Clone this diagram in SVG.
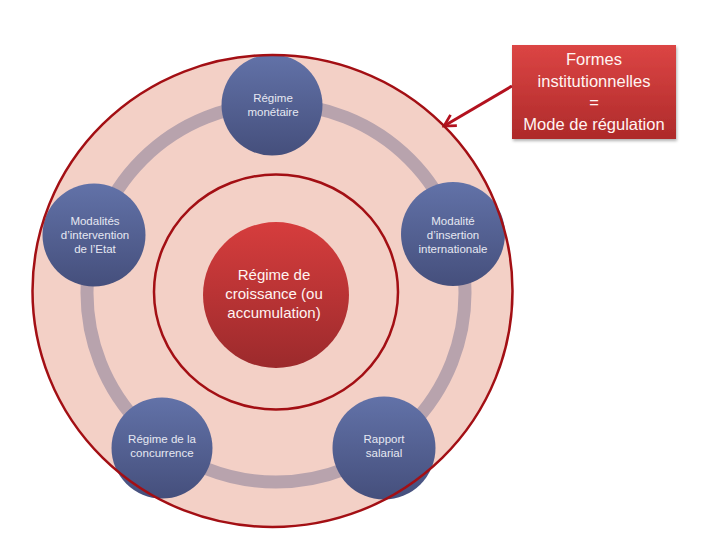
<svg xmlns="http://www.w3.org/2000/svg" width="720" height="540" viewBox="0 0 720 540">
<defs>
<linearGradient id="blue" x1="0" y1="0" x2="0" y2="1">
<stop offset="0" stop-color="#6272A8"/>
<stop offset="1" stop-color="#454F7C"/>
</linearGradient>
<linearGradient id="red" x1="0" y1="0" x2="0" y2="1">
<stop offset="0" stop-color="#D63D3D"/>
<stop offset="1" stop-color="#9C2A2C"/>
</linearGradient>
<linearGradient id="boxred" x1="0" y1="0" x2="0" y2="1">
<stop offset="0" stop-color="#DC4544"/>
<stop offset="1" stop-color="#AE2A2A"/>
</linearGradient>
<marker id="arr" viewBox="0 0 12 12" refX="10" refY="6" markerWidth="5" markerHeight="5" orient="auto" markerUnits="strokeWidth">
<path d="M1,1 L10,6 L1,11" fill="none" stroke="#B3121F" stroke-width="2.2"/>
</marker>
<filter id="sh" x="-10%" y="-10%" width="130%" height="130%">
<feDropShadow dx="1" dy="2" stdDeviation="1.5" flood-color="#000" flood-opacity="0.3"/>
</filter>
</defs>
<style>
.node{fill:url(#blue)}
.nt{font-family:"Liberation Sans",Arial,sans-serif;font-size:11.5px;fill:#E6E8F2;text-anchor:middle}
.ct{font-family:"Liberation Sans",Arial,sans-serif;font-size:15px;fill:#FFF4F2;text-anchor:middle}
.bt{font-family:"Liberation Sans",Arial,sans-serif;font-size:16.5px;fill:#FFF4F2;text-anchor:middle}
.rim{fill:none;stroke:#A30F14;stroke-width:2.5}
</style>
<rect width="720" height="540" fill="#FFFFFF"/>
<g id="outer">
<ellipse cx="272.5" cy="291" rx="240" ry="236" fill="#F3D0C6"/>
</g>
<g id="connectors">
<circle cx="276" cy="293" r="189" fill="none" stroke="#B8A3AD" stroke-width="13"/>
<line x1="512" y1="86" x2="444" y2="126" stroke="#B3121F" stroke-width="3" marker-end="url(#arr)"/>
</g>
<g id="inner">
<ellipse cx="276" cy="292" rx="122" ry="117.5" fill="#FFFFFF" class="rim"/>
</g>
<g id="center">
<circle cx="276" cy="295" r="73" fill="url(#red)"/>
<text class="ct" x="274" y="280">Régime de</text>
<text class="ct" x="274" y="299">croissance (ou</text>
<text class="ct" x="274" y="318">accumulation)</text>
</g>
<g id="n-monetaire">
<circle class="node" cx="272" cy="105" r="50.5"/>
<text class="nt" x="273" y="102">Régime</text>
<text class="nt" x="273" y="116">monétaire</text>
</g>
<g id="n-etat">
<circle class="node" cx="94" cy="235" r="51.5"/>
<text class="nt" x="95" y="225">Modalités</text>
<text class="nt" x="95" y="239">d’intervention</text>
<text class="nt" x="95" y="253">de l’Etat</text>
</g>
<g id="n-international">
<circle class="node" cx="453" cy="234" r="52"/>
<text class="nt" x="453" y="225">Modalité</text>
<text class="nt" x="453" y="239">d’insertion</text>
<text class="nt" x="453" y="253">internationale</text>
</g>
<g id="n-concurrence">
<circle class="node" cx="162" cy="448" r="50.5"/>
<text class="nt" x="162" y="443">Régime de la</text>
<text class="nt" x="162" y="457">concurrence</text>
</g>
<g id="n-salarial">
<circle class="node" cx="384" cy="448" r="51.5"/>
<text class="nt" x="384" y="443">Rapport</text>
<text class="nt" x="384" y="457">salarial</text>
</g>
<g id="outer-rim">
<ellipse class="rim" cx="272.5" cy="291" rx="240" ry="236"/>
</g>
<g id="callout">
<rect x="512" y="45" width="164" height="94" fill="url(#boxred)" filter="url(#sh)"/>
<text class="bt" x="594" y="65">Formes</text>
<text class="bt" x="594" y="87">institutionnelles</text>
<text class="bt" x="594" y="108">=</text>
<text class="bt" x="594" y="130">Mode de régulation</text>
</g>
</svg>
